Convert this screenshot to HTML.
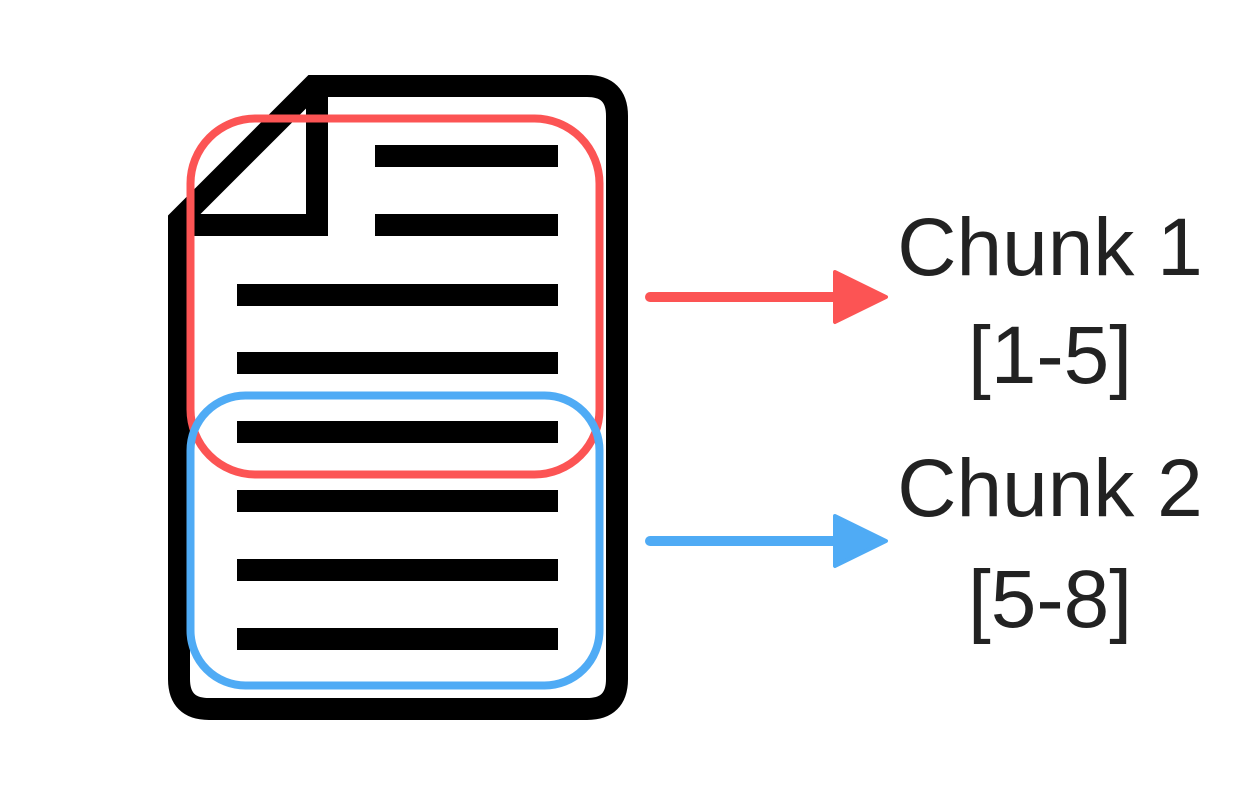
<!DOCTYPE html>
<html><head><meta charset="utf-8"><style>html,body{margin:0;padding:0;background:#fff}svg{display:block}</style></head>
<body>
<svg width="1238" height="795" viewBox="0 0 1238 795" xmlns="http://www.w3.org/2000/svg">
<rect width="1238" height="795" fill="#fff"/>
<path d="M179,220 L313,86 H587 Q617,86 617,116 V679 Q617,709 587,709 H209 Q179,709 179,679 Z" fill="none" stroke="#000" stroke-width="22" stroke-linejoin="miter"/>
<path d="M317,86 V225 H179" fill="none" stroke="#000" stroke-width="22"/>
<g fill="#000">
<rect x="375" y="145" width="183" height="22"/>
<rect x="375" y="214" width="183" height="22"/>
<rect x="237" y="284" width="321" height="22"/>
<rect x="237" y="352" width="321" height="22"/>
<rect x="237" y="421" width="321" height="22"/>
<rect x="237" y="490" width="321" height="22"/>
<rect x="237" y="559" width="321" height="22"/>
<rect x="237" y="628" width="321" height="22"/>
</g>
<rect x="190.5" y="118.5" width="409" height="356" rx="65" fill="none" stroke="#fc5454" stroke-width="8"/>
<rect x="190.5" y="395.5" width="409" height="290" rx="55" fill="none" stroke="#4fabf5" stroke-width="8"/>
<line x1="650" y1="297" x2="845" y2="297" stroke="#fc5454" stroke-width="10" stroke-linecap="round"/>
<path d="M835,272 L886,297 L835,322 Z" fill="#fc5454" stroke="#fc5454" stroke-width="4" stroke-linejoin="round"/>
<line x1="650" y1="541" x2="845" y2="541" stroke="#4fabf5" stroke-width="10" stroke-linecap="round"/>
<path d="M835,516 L886,541 L835,566 Z" fill="#4fabf5" stroke="#4fabf5" stroke-width="4" stroke-linejoin="round"/>
<g font-family="Liberation Sans, sans-serif" font-size="82" fill="#222" text-anchor="middle">
<text x="1050" y="275">Chunk 1</text>
<text x="1050" y="383">[1-5]</text>
<text x="1050" y="516">Chunk 2</text>
<text x="1050" y="627">[5-8]</text>
</g>
</svg>
</body></html>
